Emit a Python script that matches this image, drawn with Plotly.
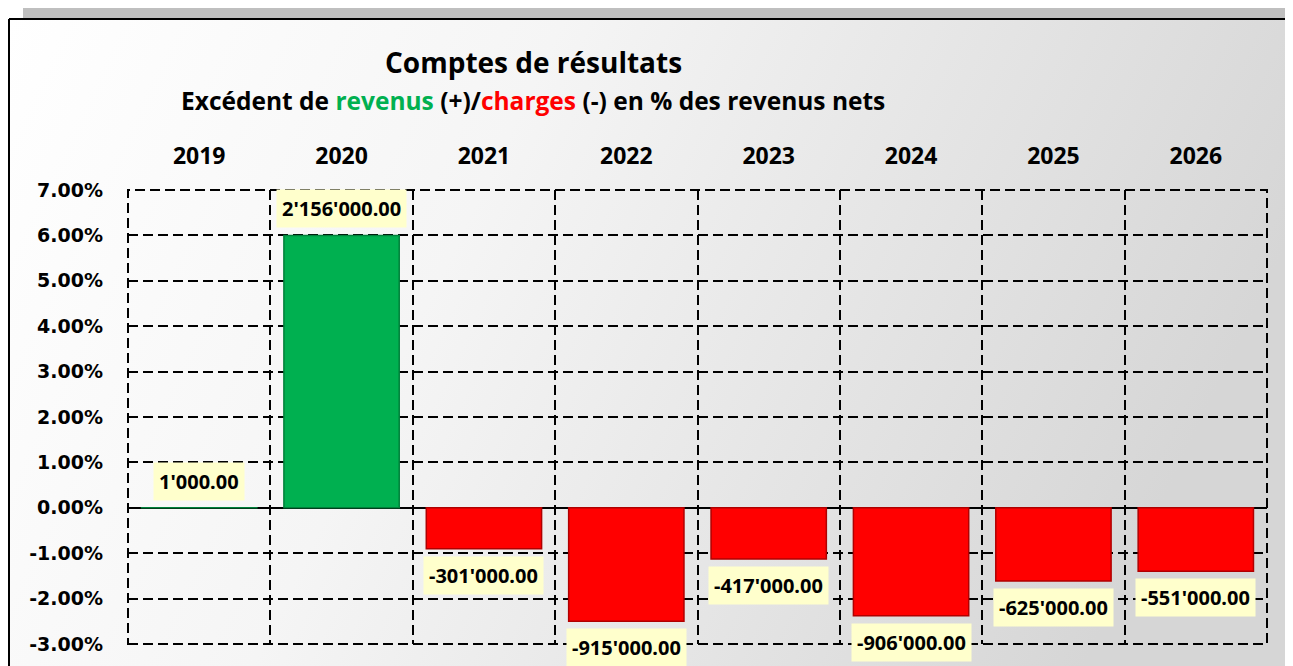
import base64
import plotly.graph_objects as go

# Comptes de résultats - excédent en % des revenus nets
years = ["2019", "2020", "2021", "2022", "2023", "2024", "2025", "2026"]
pct_values = [0.00003, 0.0600, -0.0090, -0.0250, -0.0113, -0.0238, -0.0161, -0.0140]
amounts = [1000, 2156000, -301000, -915000, -417000, -906000, -625000, -551000]
y_ticks = [0.07, 0.06, 0.05, 0.04, 0.03, 0.02, 0.01, 0.0, -0.01, -0.02, -0.03]
y_tick_labels = ["7.00%", "6.00%", "5.00%", "4.00%", "3.00%", "2.00%", "1.00%",
                 "0.00%", "-1.00%", "-2.00%", "-3.00%"]

# the page has an 8px body margin, so the figure starts at (8, 8)
OFF = 8
W, H = 1285, 658
L, R, T, B = 120, 26, 182, 22
PW, PH = W - L - R, H - T - B
DASH = "10px,5px"


def px_x(px):
    return (px - L) / PW


def px_y(py):
    return 1 - (py - T) / PH


def fmt(v):
    return f"{v:,.2f}".replace(",", "'")


colors = ["#00b050" if v >= 0 else "#ff0000" for v in pct_values]
line_colors = ["#00803a" if v >= 0 else "#b00000" for v in pct_values]

fig = go.Figure(go.Bar(
    x=years, y=pct_values,
    marker=dict(color=colors, line=dict(color=line_colors, width=1.5)),
    hoverinfo="skip",
))

# data labels with yellow boxes (category axis -> use category index)
for i, (v, a) in enumerate(zip(pct_values, amounts)):
    fig.add_annotation(
        x=i, y=v, text=fmt(a), showarrow=False,
        yanchor="bottom" if v >= 0 else "top",
        yshift=7 if v >= 0 else -7,
        bgcolor="#ffffcc", borderpad=5,
        font=dict(family="Noto Sans", size=20, color="#000000", weight="bold"),
    )

# title & subtitle
fig.add_annotation(
    xref="paper", yref="paper", x=px_x(533 - OFF), y=px_y(62 - OFF),
    text="<b>Comptes de résultats</b>", showarrow=False,
    xanchor="center", yanchor="middle",
    font=dict(family="Open Sans", size=28, color="#000000"),
)
fig.add_annotation(
    xref="paper", yref="paper", x=px_x(533 - OFF), y=px_y(101 - OFF),
    text="<b>Excédent de <span style='color:#00b050'>revenus</span> (+)/"
         "<span style='color:#ff0000'>charges</span> (-) en % des revenus nets</b>",
    showarrow=False, xanchor="center", yanchor="middle",
    font=dict(family="Open Sans", size=24.5, color="#000000"),
)

# background gradient panel
svg = ("<svg xmlns='http://www.w3.org/2000/svg' width='100' height='100' preserveAspectRatio='none'>"
       "<defs><linearGradient id='g' x1='0' y1='0' x2='1' y2='0.25'>"
       "<stop offset='0' stop-color='#ffffff'/><stop offset='0.4' stop-color='#f5f5f5'/>"
       "<stop offset='1' stop-color='#d6d6d6'/></linearGradient></defs>"
       "<rect width='100' height='100' fill='url(#g)'/></svg>")
src = "data:image/svg+xml;base64," + base64.b64encode(svg.encode()).decode()
fig.add_layout_image(
    source=src, xref="paper", yref="paper",
    x=px_x(1), y=px_y(11), sizex=(W + 20) / PW, sizey=(H + 20) / PH,
    xanchor="left", yanchor="top", sizing="stretch", layer="below",
)

# gray strip on top and frame border
fig.add_shape(type="rect", xref="paper", yref="paper",
              x0=px_x(23 - OFF), x1=px_x(W + 20), y0=px_y(10), y1=px_y(-2),
              fillcolor="#bfbfbf", line=dict(width=0), layer="below")
fig.add_shape(type="line", xref="paper", yref="paper",
              x0=px_x(1), x1=px_x(W + 20), y0=px_y(11), y1=px_y(11),
              line=dict(color="#000000", width=2))
fig.add_shape(type="line", xref="paper", yref="paper",
              x0=px_x(1), x1=px_x(1), y0=px_y(11), y1=px_y(H + 20),
              line=dict(color="#000000", width=2))

# dashed border of the plot area
fig.add_shape(type="rect", xref="paper", yref="paper", x0=0, x1=1, y0=0, y1=1,
              line=dict(color="#000000", width=2, dash=DASH), layer="below")

fig.update_layout(
    width=W, height=H,
    margin=dict(l=L, r=R, t=T, b=B),
    paper_bgcolor="#ffffff", plot_bgcolor="rgba(0,0,0,0)",
    bargap=0.19, showlegend=False,
)
fig.update_xaxes(
    side="top", type="category", tickson="boundaries", range=[-0.5, 7.5],
    showgrid=True, gridcolor="#000000", gridwidth=2, griddash=DASH,
    ticks="", ticklabelstandoff=20, tickangle=0,
    tickfont=dict(family="Open Sans", size=23, color="#000000", weight="bold"),
    showline=False, zeroline=False,
)
fig.update_yaxes(
    range=[-0.03, 0.07], tickvals=y_ticks, ticktext=y_tick_labels,
    showgrid=True, gridcolor="#000000", gridwidth=2, griddash=DASH,
    zeroline=True, zerolinecolor="#000000", zerolinewidth=2,
    ticks="", ticklabelstandoff=24,
    tickfont=dict(family="DejaVu Sans", size=19, color="#000000", weight="bold"),
    showline=False,
)

fig.write_html("out.html")
